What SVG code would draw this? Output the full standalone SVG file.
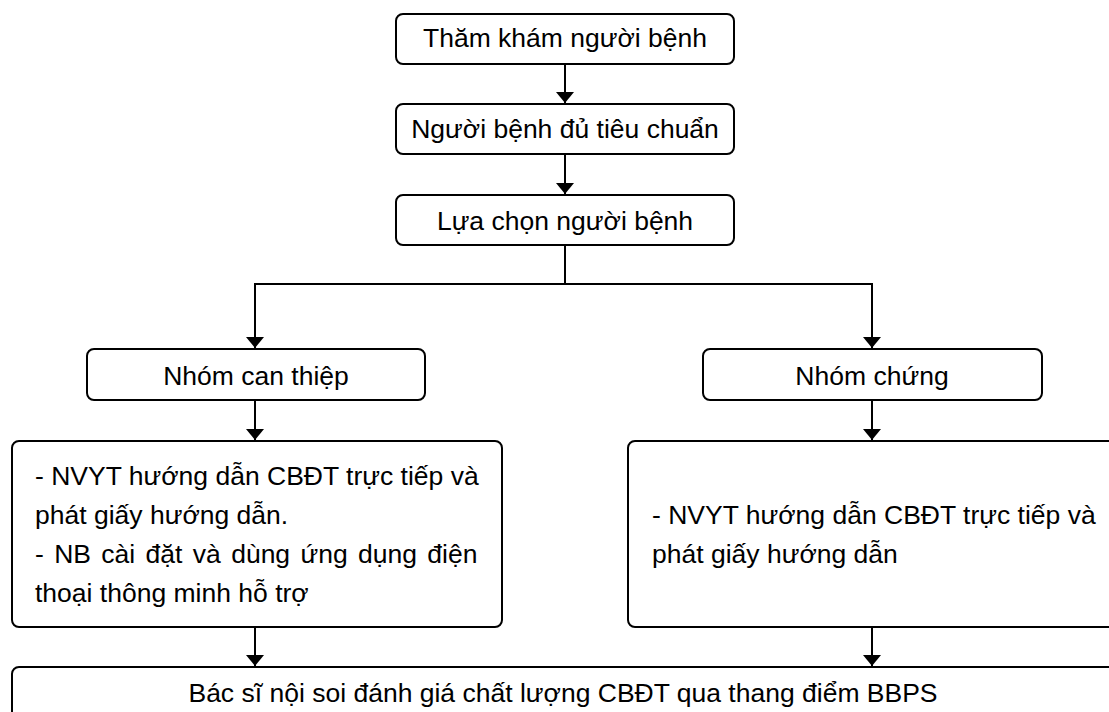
<svg xmlns="http://www.w3.org/2000/svg" width="1109" height="712" viewBox="0 0 1109 712">
<style>
.box{fill:#fff;stroke:#000;stroke-width:2}
.t{font-family:"Liberation Sans",Arial,sans-serif;font-size:26.5px;fill:#000}
.c{text-anchor:middle}
.ln{fill:none;stroke:#000;stroke-width:2}
</style>
<defs>
<marker id="ah" viewBox="0 0 11 18" refX="11" refY="9" markerWidth="11" markerHeight="18" markerUnits="userSpaceOnUse" orient="auto">
<path d="M0,0 L11,9 L0,18 Z" fill="#000"/>
</marker>
</defs>
<rect width="1109" height="712" fill="#fff"/>
<g id="connectors">
<path class="ln" d="M565,64 V103" marker-end="url(#ah)"/>
<path class="ln" d="M565,154 V194" marker-end="url(#ah)"/>
<path class="ln" d="M565,245 V284"/>
<path class="ln" d="M255,284 H872"/>
<path class="ln" d="M255,283 V348" marker-end="url(#ah)"/>
<path class="ln" d="M872,283 V348" marker-end="url(#ah)"/>
<path class="ln" d="M255,400 V440" marker-end="url(#ah)"/>
<path class="ln" d="M872,400 V440" marker-end="url(#ah)"/>
<path class="ln" d="M255,627 V666" marker-end="url(#ah)"/>
<path class="ln" d="M872,627 V666" marker-end="url(#ah)"/>
</g>
<g id="n1">
<rect class="box" x="396" y="14" width="338" height="50" rx="7"/>
<text class="t c" x="565" y="47">Thăm khám người bệnh</text>
</g>
<g id="n2">
<rect class="box" x="396" y="104" width="338" height="50" rx="7"/>
<text class="t c" x="565" y="138">Người bệnh đủ tiêu chuẩn</text>
</g>
<g id="n3">
<rect class="box" x="396" y="195" width="338" height="50" rx="7"/>
<text class="t c" x="565" y="230">Lựa chọn người bệnh</text>
</g>
<g id="n4">
<rect class="box" x="87" y="349" width="338" height="51" rx="7"/>
<text class="t c" x="256" y="385">Nhóm can thiệp</text>
</g>
<g id="n5">
<rect class="box" x="703" y="349" width="339" height="51" rx="7"/>
<text class="t c" x="872" y="385">Nhóm chứng</text>
</g>
<g id="n6">
<rect class="box" x="12" y="441" width="490" height="186" rx="7"/>
<text class="t" x="35" y="485">- NVYT hướng dẫn CBĐT trực tiếp và</text>
<text class="t" x="35" y="524">phát giấy hướng dẫn.</text>
<text class="t" x="35" y="563" word-spacing="3">- NB cài đặt và dùng ứng dụng điện</text>
<text class="t" x="35" y="602">thoại thông minh hỗ trợ</text>
</g>
<g id="n7">
<rect class="box" x="628" y="441" width="500" height="186" rx="7"/>
<text class="t" x="652" y="524">- NVYT hướng dẫn CBĐT trực tiếp và</text>
<text class="t" x="652" y="563">phát giấy hướng dẫn</text>
</g>
<g id="n8">
<rect class="box" x="12" y="667" width="1120" height="70" rx="7"/>
<text class="t c" x="563" y="702">Bác sĩ nội soi đánh giá chất lượng CBĐT qua thang điểm BBPS</text>
</g>
</svg>
